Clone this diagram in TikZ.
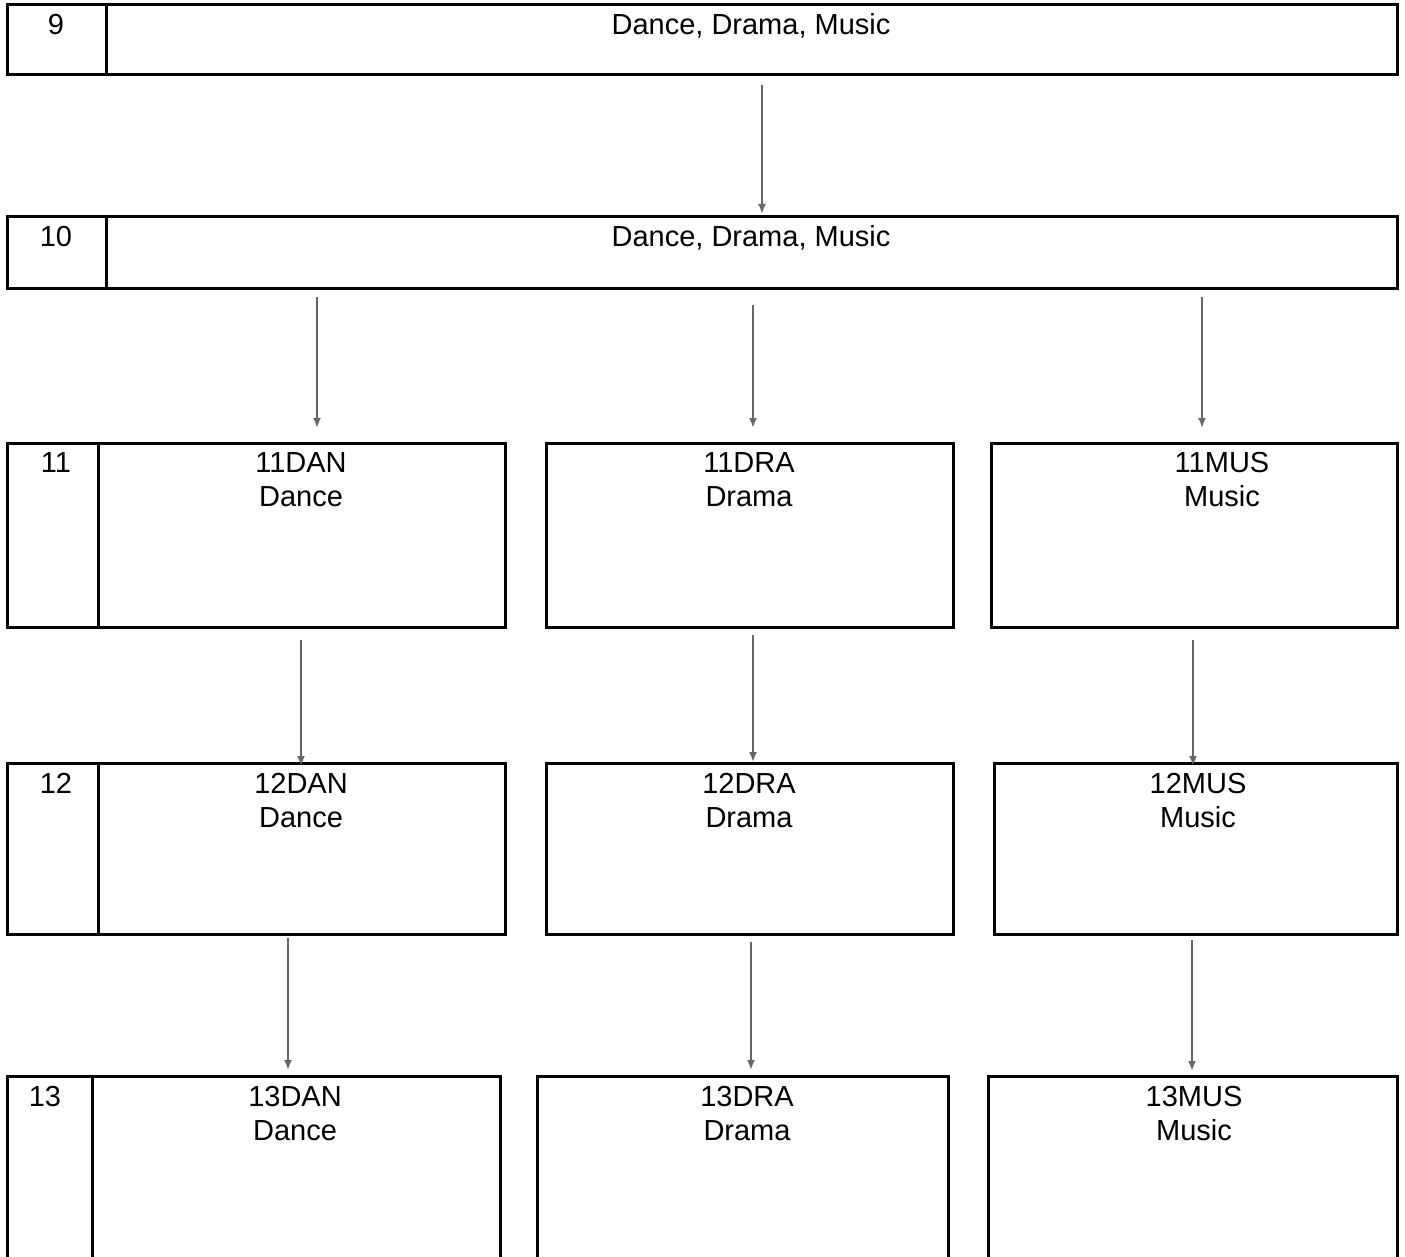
\documentclass[tikz,border=0pt]{standalone}
\usepackage{fontspec}
\setmainfont{Liberation Sans}
\usetikzlibrary{arrows.meta}
\begin{document}
\begin{tikzpicture}[x=1pt,y=-1pt,
  cell/.style={draw=black, line width=3pt, inner sep=0pt, outer sep=0pt, anchor=north west},
  txt/.style={font=\fontsize{29}{34}\selectfont, inner sep=0pt, anchor=base},
  arr/.style={draw=black!60, line width=2pt, -{Latex[length=10pt,width=8pt]}}]
\useasboundingbox (0,0) rectangle (1405,1257);
\clip (0,0) rectangle (1405,1257);
% Row 9
\node[cell, minimum width=99pt, minimum height=70pt] (c9) at (7,5) {};
\node[cell, minimum width=1291pt, minimum height=70pt] (b9) at (106,5) {};
\node[txt] (t9) at (56,35) {9};
\node[txt] (t9b) at (751,35) {Dance, Drama, Music};
% Row 10
\node[cell, minimum width=99pt, minimum height=72pt] (c10) at (7,217) {};
\node[cell, minimum width=1291pt, minimum height=72pt] (b10) at (106,217) {};
\node[txt] (t10) at (56,247) {10};
\node[txt] (t10b) at (751,247) {Dance, Drama, Music};
% Row 11
\node[cell, minimum width=91pt, minimum height=184pt] (c11) at (7,443) {};
\node[cell, minimum width=407pt, minimum height=184pt] (dan11) at (98,443) {};
\node[cell, minimum width=407pt, minimum height=184pt] (dra11) at (546,443) {};
\node[cell, minimum width=406pt, minimum height=184pt] (mus11) at (991,443) {};
\node[txt] (t11) at (56,472) {11};
\node[txt] (t11a) at (301,472) {11DAN};
\node[txt] (t11a2) at (301,506) {Dance};
\node[txt] (t11b) at (749,472) {11DRA};
\node[txt] (t11b2) at (749,506) {Drama};
\node[txt] (t11c) at (1222,472) {11MUS};
\node[txt] (t11c2) at (1222,506) {Music};
% Row 12
\node[cell, minimum width=91pt, minimum height=171pt] (c12) at (7,763) {};
\node[cell, minimum width=407pt, minimum height=171pt] (dan12) at (98,763) {};
\node[cell, minimum width=407pt, minimum height=171pt] (dra12) at (546,763) {};
\node[cell, minimum width=403pt, minimum height=171pt] (mus12) at (994,763) {};
\node[txt] (t12) at (56,793) {12};
\node[txt] (t12a) at (301,793) {12DAN};
\node[txt] (t12a2) at (301,827) {Dance};
\node[txt] (t12b) at (749,793) {12DRA};
\node[txt] (t12b2) at (749,827) {Drama};
\node[txt] (t12c) at (1198,793) {12MUS};
\node[txt] (t12c2) at (1198,827) {Music};
% Row 13
\node[cell, minimum width=85pt, minimum height=220pt] (c13) at (7,1076) {};
\node[cell, minimum width=408pt, minimum height=220pt] (dan13) at (92,1076) {};
\node[cell, minimum width=411pt, minimum height=220pt] (dra13) at (537,1076) {};
\node[cell, minimum width=409pt, minimum height=220pt] (mus13) at (988,1076) {};
\node[txt] (t13) at (45,1106) {13};
\node[txt] (t13a) at (295,1106) {13DAN};
\node[txt] (t13a2) at (295,1140) {Dance};
\node[txt] (t13b) at (747,1106) {13DRA};
\node[txt] (t13b2) at (747,1140) {Drama};
\node[txt] (t13c) at (1194,1106) {13MUS};
\node[txt] (t13c2) at (1194,1140) {Music};
% Arrow ends
\coordinate (s1) at (762,85);   \coordinate (e1) at (762,214);
\coordinate (s2) at (317,297);  \coordinate (e2) at (317,428);
\coordinate (s3) at (753,305);  \coordinate (e3) at (753,428);
\coordinate (s4) at (1202,297); \coordinate (e4) at (1202,428);
\coordinate (s5) at (301,640);  \coordinate (e5) at (301,766);
\coordinate (s6) at (753,635);  \coordinate (e6) at (753,762);
\coordinate (s7) at (1193,640); \coordinate (e7) at (1193,766);
\coordinate (s8) at (288,938);  \coordinate (e8) at (288,1070);
\coordinate (s9) at (751,942);  \coordinate (e9) at (751,1070);
\coordinate (s10) at (1192,940); \coordinate (e10) at (1192,1071);
\foreach \i in {1,...,10} {\draw[arr] (s\i) -- (e\i);}
\end{tikzpicture}
\end{document}
